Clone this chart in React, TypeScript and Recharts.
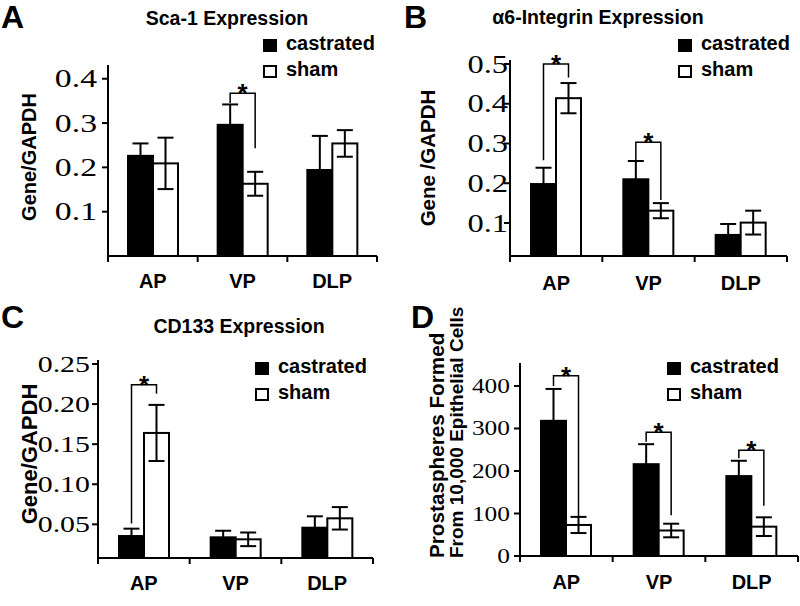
import React from 'react';
import { BarChart, Bar, XAxis, YAxis, ErrorBar, Legend } from 'recharts';

const categories = ['AP', 'VP', 'DLP'];

// A: Sca-1 (Gene/GAPDH)
const sca1Castrated = [0.226, 0.296, 0.194];
const sca1CastratedErr = [0.028, 0.046, 0.077];
const sca1Sham = [0.209, 0.163, 0.254];
const sca1ShamErr = [0.058, 0.027, 0.03];
// significance bracket: [bracket top, left end, right end] in axis units
const sca1Sig = [null, [0.367, 0.345, 0.243], null];
const sca1Ticks = [0.1, 0.2, 0.3, 0.4];

// B: alpha6-integrin
const itgCastrated = [0.198, 0.21, 0.07];
const itgCastratedErr = [0.041, 0.046, 0.0275];
const itgSham = [0.414, 0.131, 0.101];
const itgShamErr = [0.038, 0.019, 0.03];
const itgSig = [[0.5, 0.258, 0.466], [0.303, 0.257, 0.158], null];
const itgTicks = [0.1, 0.2, 0.3, 0.4, 0.5];

// C: CD133
const cdCastrated = [0.0354, 0.0338, 0.0458];
const cdCastratedErr = [0.0092, 0.0082, 0.0142];
const cdSham = [0.164, 0.0313, 0.0575];
const cdShamErr = [0.035, 0.0085, 0.014];
const cdSig = [[0.224, 0.051, 0.213], null, null];
const cdTicks = [0.05, 0.1, 0.15, 0.2, 0.25];

// D: prostaspheres from 10,000 epithelial cells
const sphCastrated = [318, 216, 188];
const sphCastratedErr = [75, 47, 36];
const sphSham = [73, 60, 69];
const sphShamErr = [19, 16, 22];
const sphSig = [[424, 400, 93], [291, 269, 96], [249, 230, 118]];
const sphTicks = [0, 100, 200, 300, 400];

const SANS = "'Liberation Sans', Arial, sans-serif";
const SERIF = "'Liberation Serif', 'Times New Roman', serif";

const CatTick = (props: any) => {
  const { x, y, payload, labelDy } = props;
  const half = payload.offset || 45;
  return (
    <g>
      <line x1={x + half} y1={y} x2={x + half} y2={y + 6} stroke="#000" strokeWidth={2} />
      {payload.index === 0 && <line x1={x - half} y1={y} x2={x - half} y2={y + 6} stroke="#000" strokeWidth={2} />}
      <text x={x} y={y + labelDy} textAnchor="middle" fontFamily={SANS} fontWeight="bold" fontSize={20} fill="#000">
        {payload.value}
      </text>
    </g>
  );
};

const NumTick = (props: any) => {
  const { x, y, payload, digits, font, stretch } = props;
  return (
    <text transform={`translate(${x},${y}) scale(${stretch},1)`} textAnchor="end" dy="0.35em" fontFamily={SERIF} fontSize={font} fill="#000">
      {payload.value.toFixed(digits)}
    </text>
  );
};

const LegendBox = ({ payload }: any) => (
  <div style={{ fontFamily: SANS, fontWeight: 'bold', fontSize: 20, color: '#000' }}>
    {(payload || []).map((entry: any) => (
      <div key={entry.value} style={{ display: 'flex', alignItems: 'center', height: 26, lineHeight: '26px' }}>
        <span style={{ boxSizing: 'border-box', width: 14, height: 13, border: '2px solid #000', background: entry.color, marginRight: 9, marginTop: 4 }} />
        <span>{entry.value}</span>
      </div>
    ))}
  </div>
);

// castrated bar + significance bracket drawn from the bar's own scale
const castratedShape = (base: number) => (props: any) => {
  const { x, y, width, height, payload } = props;
  const rect = <rect x={x} y={y} width={width} height={height} fill="#000" stroke="#000" strokeWidth={2} />;
  if (!payload.sig || !height) return rect;
  const bottom = y + height;
  const k = height / (payload.castrated - base);
  const py = (v: number) => bottom - (v - base) * k;
  const [top, leftEnd, rightEnd] = payload.sig;
  const x1 = x + width / 2;
  const x2 = x + width * 1.5;
  return (
    <g>
      {rect}
      <polyline points={`${x1},${py(leftEnd)} ${x1},${py(top)} ${x2},${py(top)} ${x2},${py(rightEnd)}`} fill="none" stroke="#000" strokeWidth={1.5} />
      <text x={(x1 + x2) / 2} y={py(top) + 9} textAnchor="middle" fontFamily={SANS} fontWeight="bold" fontSize={26} fill="#000">*</text>
    </g>
  );
};

const shamShape = (props: any) => {
  const { x, y, width, height } = props;
  return <rect x={x} y={y} width={width} height={height} fill="#fff" stroke="#000" strokeWidth={2} />;
};

const Panel = ({ cfg }: { cfg: any }) => {
  const rows = categories.map((name, i) => ({
    name,
    castrated: cfg.castrated[i],
    castratedErr: cfg.castratedErr[i],
    sham: cfg.sham[i],
    shamErr: cfg.shamErr[i],
    sig: cfg.sig[i],
  }));
  const t = cfg.title;
  const yTitle = () => (
    <g>
      {t.lines.map((line: string, i: number) => (
        <text key={line} transform={`translate(${t.x + i * t.gap},${t.y}) rotate(-90)`} textAnchor={t.anchor} fontFamily={SANS} fontWeight="bold" fontSize={t.sizes[i]} fill="#000">
          {line}
        </text>
      ))}
    </g>
  );
  return (
    <div style={{ position: 'absolute', left: cfg.left, top: cfg.top }}>
      <BarChart width={cfg.width} height={cfg.height} data={rows} margin={cfg.margin} barGap={0} barSize={25}>
        <XAxis
          dataKey="name"
          height={40}
          interval={0}
          tickSize={0}
          tickMargin={0}
          tickLine={false}
          axisLine={{ stroke: '#000', strokeWidth: 2 }}
          tick={<CatTick labelDy={cfg.labelDy} />}
        />
        <YAxis
          type="number"
          width={60}
          domain={cfg.domain}
          ticks={cfg.ticks}
          interval={0}
          tickSize={6}
          tickMargin={cfg.tickMargin}
          tickLine={{ stroke: '#000', strokeWidth: 2 }}
          axisLine={{ stroke: '#000', strokeWidth: 2 }}
          tick={<NumTick digits={cfg.digits} font={cfg.tickFont} stretch={cfg.stretch} />}
          label={yTitle}
        />
        <Legend
          layout="vertical"
          align="center"
          verticalAlign="middle"
          wrapperStyle={{ left: cfg.legend[0], top: cfg.legend[1], width: 130, height: 52 }}
          content={(p: any) => <LegendBox payload={p.payload} />}
        />
        <Bar dataKey="castrated" name="castrated" fill="#000" legendType="square" shape={castratedShape(cfg.domain[0])} isAnimationActive={false}>
          <ErrorBar dataKey="castratedErr" width={8} stroke="#000" strokeWidth={2} />
        </Bar>
        <Bar dataKey="sham" name="sham" fill="#fff" legendType="square" shape={shamShape} isAnimationActive={false}>
          <ErrorBar dataKey="shamErr" width={8} stroke="#000" strokeWidth={2} />
        </Bar>
      </BarChart>
    </div>
  );
};

const panels = [
  {
    left: 0, top: 0, width: 400, height: 300,
    margin: { top: 65, right: 23, bottom: 4, left: 48 },
    castrated: sca1Castrated, castratedErr: sca1CastratedErr, sham: sca1Sham, shamErr: sca1ShamErr, sig: sca1Sig,
    domain: [0, 0.431], ticks: sca1Ticks, digits: 1, tickFont: 25, stretch: 1.35, tickMargin: 5, labelDy: 32,
    legend: [263, 30],
    title: { lines: ['Gene/GAPDH'], x: 36, y: 157, gap: 0, anchor: 'middle', sizes: [20] },
  },
  {
    left: 400, top: 0, width: 400, height: 300,
    margin: { top: 60, right: 13, bottom: 4, left: 50 },
    castrated: itgCastrated, castratedErr: itgCastratedErr, sham: itgSham, shamErr: itgShamErr, sig: itgSig,
    domain: [0.017, 0.51], ticks: itgTicks, digits: 1, tickFont: 25, stretch: 1.3, tickMargin: -4, labelDy: 34,
    legend: [278, 30],
    title: { lines: ['Gene /GAPDH'], x: 35, y: 158, gap: 0, anchor: 'middle', sizes: [20.5] },
  },
  {
    left: 0, top: 300, width: 400, height: 306,
    margin: { top: 60, right: 27, bottom: 8, left: 38 },
    castrated: cdCastrated, castratedErr: cdCastratedErr, sham: cdSham, shamErr: cdShamErr, sig: cdSig,
    domain: [0.008, 0.255], ticks: cdTicks, digits: 2, tickFont: 23, stretch: 1.3, tickMargin: 2, labelDy: 32,
    legend: [255, 53],
    title: { lines: ['Gene/GAPDH'], x: 37, y: 154, gap: 0, anchor: 'middle', sizes: [22] },
  },
  {
    left: 400, top: 300, width: 400, height: 306,
    margin: { top: 63, right: 2, bottom: 10, left: 60 },
    castrated: sphCastrated, castratedErr: sphCastratedErr, sham: sphSham, shamErr: sphShamErr, sig: sphSig,
    domain: [0, 454], ticks: sphTicks, digits: 0, tickFont: 20, stretch: 1.27, tickMargin: 4, labelDy: 33,
    legend: [267, 53],
    title: { lines: ['Prostaspheres Formed', 'From 10,000 Epithelial Cells'], x: 44, y: 258, gap: 19, anchor: 'start', sizes: [20.7, 19] },
  },
];

const letters = [
  { text: 'A', left: 1, top: 1 },
  { text: 'B', left: 404, top: 1 },
  { text: 'C', left: 1, top: 301 },
  { text: 'D', left: 411, top: 301 },
];

const headings = [
  { text: 'Sca-1 Expression', center: 227, top: 9 },
  { text: 'α6-Integrin Expression', center: 598, top: 8 },
  { text: 'CD133 Expression', center: 239, top: 317 },
];

export default function App() {
  return (
    <div style={{ position: 'absolute', left: 0, top: 0, width: 800, height: 606, background: '#fff', overflow: 'hidden' }}>
      {panels.map((cfg, i) => (
        <Panel key={i} cfg={cfg} />
      ))}
      {letters.map((l) => (
        <div key={l.text} style={{ position: 'absolute', left: l.left, top: l.top, fontFamily: SANS, fontWeight: 'bold', fontSize: 32, lineHeight: '32px', color: '#000' }}>
          {l.text}
        </div>
      ))}
      {headings.map((h) => (
        <div key={h.text} style={{ position: 'absolute', left: h.center - 150, width: 300, top: h.top, textAlign: 'center', fontFamily: SANS, fontWeight: 'bold', fontSize: 19.5, lineHeight: '19px', color: '#000' }}>
          {h.text}
        </div>
      ))}
    </div>
  );
}
